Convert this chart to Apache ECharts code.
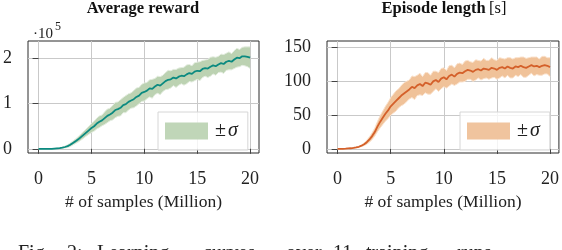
<!DOCTYPE html>
<html><head><meta charset="utf-8">
<script src="https://cdn.jsdelivr.net/npm/echarts@6/dist/echarts.min.js"></script>
<style>html,body{margin:0;padding:0;background:#fff}#c{width:562px;height:250px}</style>
</head><body><div id="c"></div>
<script>
// x positions: number of samples (Million)
const samples = [0,0.25,0.5,0.75,1,1.25,1.5,1.75,2,2.25,2.5,2.75,3,3.25,3.5,3.75,4,4.25,4.5,4.75,5,5.25,5.5,5.75,6,6.25,6.5,6.75,7,7.25,7.5,7.75,8,8.25,8.5,8.75,9,9.25,9.5,9.75,10,10.25,10.5,10.75,11,11.25,11.5,11.75,12,12.25,12.5,12.75,13,13.25,13.5,13.75,14,14.25,14.5,14.75,15,15.25,15.5,15.75,16,16.25,16.5,16.75,17,17.25,17.5,17.75,18,18.25,18.5,18.75,19,19.25,19.5,19.75,20];
// Average reward, in units of 1e5
const rewardMean = [0,0,0,0,0,0,0.005,0.01,0.015,0.025,0.04,0.06,0.09,0.13,0.17,0.21,0.26,0.31,0.36,0.41,0.46,0.50,0.56,0.60,0.63,0.68,0.73,0.76,0.80,0.86,0.88,0.91,0.97,0.99,1.04,1.07,1.10,1.15,1.18,1.24,1.26,1.29,1.34,1.33,1.38,1.42,1.40,1.45,1.50,1.53,1.54,1.58,1.56,1.60,1.62,1.61,1.65,1.68,1.66,1.71,1.73,1.72,1.77,1.79,1.78,1.82,1.85,1.83,1.87,1.90,1.88,1.93,1.95,1.93,1.98,2.02,2.01,2.05,2.05,2.04,2.02];
const rewardStd = [0.005,0.005,0.005,0.005,0.005,0.005,0.005,0.008,0.01,0.015,0.02,0.03,0.04,0.045,0.05,0.06,0.07,0.075,0.08,0.09,0.10,0.11,0.12,0.13,0.12,0.14,0.15,0.14,0.16,0.17,0.16,0.18,0.17,0.19,0.18,0.17,0.19,0.20,0.18,0.19,0.20,0.18,0.19,0.21,0.18,0.19,0.20,0.18,0.19,0.21,0.19,0.18,0.20,0.19,0.18,0.20,0.21,0.19,0.18,0.20,0.19,0.21,0.19,0.18,0.20,0.21,0.19,0.20,0.18,0.20,0.21,0.19,0.20,0.18,0.20,0.21,0.19,0.20,0.21,0.22,0.24];
// Episode length [s]
const lengthMean = [0,0,0.2,0.4,0.7,1.0,1.5,2.2,3.2,4.8,7,10,14,19,25,33,40,46,52,57,63,67,71,75,79,82,85,88,92,90,94,96,93,98,97,95,100,102,99,104,106,103,108,110,107,111,113,112,115,117,116,114,117,118,116,119,118,117,120,119,117,120,121,119,122,120,119,122,121,123,121,120,122,124,122,123,121,123,124,123,121];
const lengthStd = [0.3,0.3,0.3,0.3,0.3,0.3,0.3,0.5,0.8,1.2,2,3,4,5,6,7.5,9,10,11,12,13,14,15,14,15,16,15,14,16,17,15,16,14,15,16,14,15,13,14,15,14,13,15,14,13,15,14,13,15,14,13,14,15,13,14,15,13,14,15,13,14,15,13,14,13,15,14,13,14,13,15,14,13,12,14,13,12,14,13,12,14];
const xTicks = [0,5,10,15,20];
const rewardTicks = [0,1,2];
const lengthTicks = [0,50,100,150];

const SERIF = '"Liberation Serif","DejaVu Serif",serif';
const chart = echarts.init(document.getElementById('c'), null, {renderer:'canvas'});

function xAxisCfg(g){
  return {
    type:'value', gridIndex:g, min:-1, max:20.84, minInterval:5, maxInterval:5,
    axisLine:{show:false},
    axisTick:{show:true, length:5, lineStyle:{color:'#444', width:1}, customValues:xTicks},
    axisLabel:{customValues:xTicks, margin:17, fontFamily:SERIF, fontSize:18, color:'#222'},
    splitLine:{show:true, lineStyle:{color:'#c9c9c9', width:1}},
    name:'# of samples (Million)', nameLocation:'middle', nameGap:40,
    nameTextStyle:{fontFamily:SERIF, fontSize:17.5, color:'#222'}
  };
}
function yAxisCfg(g, min, max, step, ticks){
  return {
    type:'value', gridIndex:g, min:min, max:max, minInterval:step, maxInterval:step,
    axisLine:{show:false},
    axisTick:{show:true, length:6, lineStyle:{color:'#444', width:1}, customValues:ticks},
    axisLabel:{customValues:ticks, margin:16, fontFamily:SERIF, fontSize:18, color:'#222'},
    splitLine:{show:true, lineStyle:{color:'#c9c9c9', width:1}}
  };
}
// mean ± std band drawn as one polygon through the axis scales
function bandSeries(g, mean, std, fill, edge, name){
  const rows = samples.map((x,i)=>[x, mean[i]-std[i], mean[i]+std[i]]);
  return {
    name:name, type:'custom', xAxisIndex:g, yAxisIndex:g, data:rows, z:2,
    itemStyle:{color:fill}, clip:true,
    encode:{x:0, y:[1,2]},
    renderItem:function(params, api){
      if (params.dataIndex !== 0) return null;
      const up = rows.map(r=>api.coord([r[0], r[2]]));
      const lo = rows.map(r=>api.coord([r[0], r[1]]));
      const poly = up.concat(lo.slice().reverse());
      return {type:'group', children:[
        {type:'polygon', shape:{points:poly}, style:{fill:fill, stroke:null}},
        {type:'polyline', shape:{points:up}, style:{fill:null, stroke:edge, lineWidth:1}},
        {type:'polyline', shape:{points:lo}, style:{fill:null, stroke:edge, lineWidth:1}}
      ]};
    }
  };
}
function meanSeries(g, mean, color){
  return {type:'line', xAxisIndex:g, yAxisIndex:g, data:samples.map((x,i)=>[x, mean[i]]),
    symbol:'none', lineStyle:{color:color, width:1.8}, itemStyle:{color:color}, z:4};
}
function legendCfg(left, name, fill){
  return {
    data:[name], left:left, top:112, orient:'horizontal', icon:'rect',
    itemWidth:43, itemHeight:17, padding:[9,10,9,7],
    backgroundColor:'rgba(255,255,255,0.8)', borderColor:'#d6d6d6', borderWidth:1, borderRadius:0,
    itemStyle:{color:fill, borderWidth:0},
    formatter:'{a|±}{b|σ}',
    textStyle:{fontFamily:SERIF, fontSize:19, color:'#222',
      rich:{a:{fontFamily:SERIF, fontSize:20, color:'#222', padding:[0,2,0,2]}, b:{fontFamily:SERIF, fontSize:20, fontStyle:'italic', color:'#222'}}},
    selectedMode:false
  };
}

const captionWords = ['Fig.','2:','Learning','curves','over','11','training','runs'];
const captionX = [18,67,97,203,286,333,366,457];

const option = {
  animation:false,
  grid:[
    {left:26, top:41, width:233, height:112, show:true, borderColor:'#2a2a2a', borderWidth:1, backgroundColor:'transparent', containLabel:false},
    {left:327, top:41, width:232, height:112, show:true, borderColor:'#2a2a2a', borderWidth:1, backgroundColor:'transparent', containLabel:false}
  ],
  xAxis:[xAxisCfg(0), xAxisCfg(1)],
  yAxis:[yAxisCfg(0,-0.093,2.39,1,rewardTicks), yAxisCfg(1,-6,159.7,50,lengthTicks)],
  legend:[legendCfg(158,'Reward ±σ','#c0d6b8'), legendCfg(460,'Length ±σ','#f0c49e')],
  series:[
    bandSeries(0, rewardMean, rewardStd, '#bcd2b2', '#e4ede0', 'Reward ±σ'),
    meanSeries(0, rewardMean, '#0b8a80'),
    bandSeries(1, lengthMean, lengthStd, '#f0c299', '#fae2cd', 'Length ±σ'),
    meanSeries(1, lengthMean, '#d4602a')
  ],
  graphic:[
    {type:'text', x:143, y:9, style:{text:'Average reward', align:'center', verticalAlign:'middle', fill:'#111', font:'bold 16.5px '+SERIF}},
    {type:'text', x:444, y:9, style:{text:'{b|Episode length} {n|[s]}', align:'center', verticalAlign:'middle', fill:'#111',
      rich:{b:{fontFamily:SERIF, fontSize:16.5, fontWeight:'bold', fill:'#111'}, n:{fontFamily:SERIF, fontSize:16.5, fill:'#111'}}}},
    {type:'text', x:33, y:34, style:{text:'·10', align:'left', verticalAlign:'middle', fill:'#222', font:'15px '+SERIF}},
    {type:'text', x:55, y:27, style:{text:'5', align:'left', verticalAlign:'middle', fill:'#222', font:'12px '+SERIF}},
    ...captionWords.map((w,i)=>({type:'text', x:captionX[i], y:244, style:{text:w, align:'left', verticalAlign:'top', fill:'#222', font:'20px '+SERIF}}))
  ]
};
chart.setOption(option);
</script>
</body></html>
